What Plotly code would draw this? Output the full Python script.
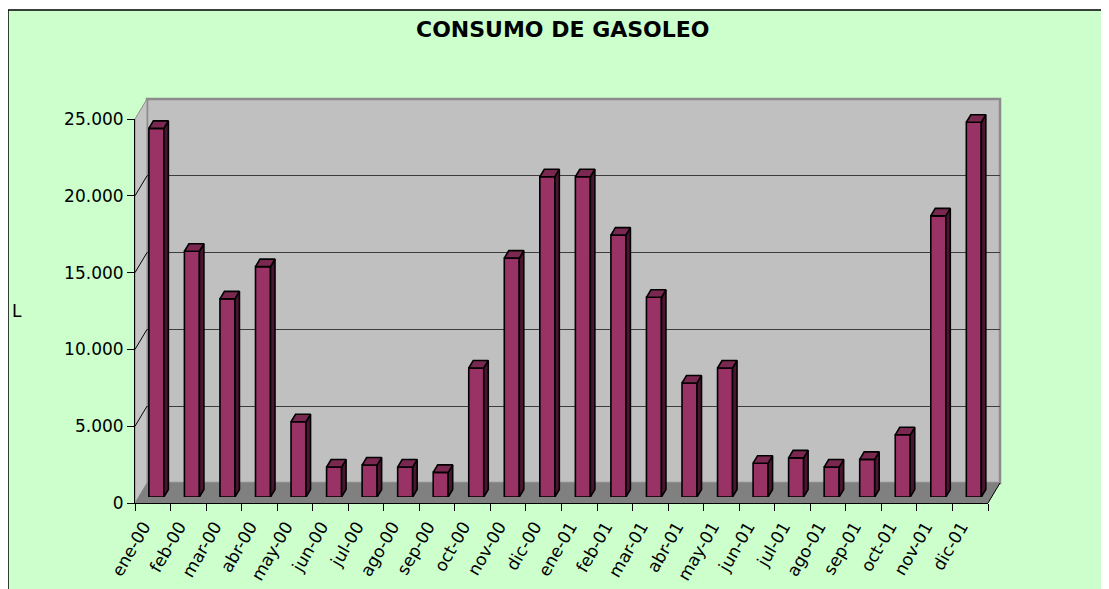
import plotly.graph_objects as go

months = ["ene-00", "feb-00", "mar-00", "abr-00", "may-00", "jun-00", "jul-00", "ago-00",
          "sep-00", "oct-00", "nov-00", "dic-00", "ene-01", "feb-01", "mar-01", "abr-01",
          "may-01", "jun-01", "jul-01", "ago-01", "sep-01", "oct-01", "nov-01", "dic-01"]
litros = [24000, 16000, 12900, 15000, 4900, 1950, 2080, 1950,
          1600, 8400, 15550, 20850, 20850, 17050, 13000, 7420,
          8400, 2200, 2550, 1950, 2450, 4050, 18300, 24400]
y_ticks = [0, 5000, 10000, 15000, 20000, 25000]
title_text = "CONSUMO DE GASOLEO"
y_title = "L"

# the page body adds an 8px margin; the figure fills the rest of the window
OFF = 8
W, H = 1109 - OFF, 589 - OFF
def px(x):
    return (x - OFF) / W
def py(y):
    return 1 - (y - OFF) / H

# geometry (window pixels)
FX0, FX1, FY0, FY1 = 135, 988, 503, 119      # front axes
BDX, BDY = 12, -20                            # back wall offset
BAR_DX, BAR_DY = 3.6, -6                      # bar plane offset
YMAX = 25000
n = len(months)
cat_px = (FX1 - FX0) / n
bar_w = 0.422
depth_x = 4.5 / cat_px
depth_y = 7.5 * YMAX / (FY0 - FY1)

fig = go.Figure()

fig.add_trace(go.Scatter(x=[0], y=[0], xaxis="x", yaxis="y", mode="markers",
                         marker=dict(opacity=0), hoverinfo="skip", showlegend=False))
fig.add_trace(go.Scatter(x=[0], y=[0], xaxis="x2", yaxis="y2", mode="markers",
                         marker=dict(opacity=0), hoverinfo="skip", showlegend=False))

xs = list(range(n))
sx, sy = [], []
tx, ty = [], []
for i, v in zip(xs, litros):
    xl, xr = i - bar_w / 2, i + bar_w / 2
    sx += [xr, xr + depth_x, xr + depth_x, xr, xr, None]
    sy += [0, depth_y, v + depth_y, v, 0, None]
    tx += [xl, xr, xr + depth_x, xl + depth_x, xl, None]
    ty += [v, v, v + depth_y, v + depth_y, v, None]

fig.add_trace(go.Bar(x=xs, y=litros, xaxis="x3", yaxis="y3", width=bar_w,
                     marker=dict(color="#993366", line=dict(color="black", width=1.6)),
                     showlegend=False, hoverinfo="skip"))
fig.add_trace(go.Scatter(x=sx, y=sy, xaxis="x3", yaxis="y3", mode="lines", fill="toself",
                         fillcolor="#4a1530", line=dict(color="black", width=1.6),
                         showlegend=False, hoverinfo="skip"))
fig.add_trace(go.Scatter(x=tx, y=ty, xaxis="x3", yaxis="y3", mode="lines", fill="toself",
                         fillcolor="#7a2850", line=dict(color="black", width=1.6),
                         showlegend=False, hoverinfo="skip"))

shapes = []
shapes.append(dict(type="rect", xref="paper", yref="paper", x0=px(8), x1=px(1109 + 5),
                   y0=py(589 + 5), y1=py(10), fillcolor="#ccffcc",
                   line=dict(color="black", width=1.5), layer="below"))
shapes.append(dict(type="rect", xref="paper", yref="paper",
                   x0=px(FX0 + BDX), x1=px(FX1 + BDX), y0=py(FY0 + BDY), y1=py(FY1 + BDY),
                   fillcolor="#c0c0c0", line=dict(color="#8c8c8c", width=2.5), layer="below"))
shapes.append(dict(type="path", xref="paper", yref="paper",
                   path=f"M {px(FX0)} {py(FY0)} L {px(FX0)} {py(FY1)} L {px(FX0+BDX)} {py(FY1+BDY)} "
                        f"L {px(FX0+BDX)} {py(FY0+BDY)} Z",
                   fillcolor="#c4c4c4", line=dict(color="#8c8c8c", width=1), layer="below"))
shapes.append(dict(type="path", xref="paper", yref="paper",
                   path=f"M {px(FX0)} {py(FY0)} L {px(FX1)} {py(FY0)} L {px(FX1+BDX)} {py(FY0+BDY)} "
                        f"L {px(FX0+BDX)} {py(FY0+BDY)} Z",
                   fillcolor="#808080", line=dict(width=0), layer="below"))
shapes.append(dict(type="line", xref="paper", yref="paper",
                   x0=px(FX1), y0=py(FY0), x1=px(FX1 + BDX), y1=py(FY0 + BDY),
                   line=dict(color="black", width=1)))
for t in y_ticks[1:-1]:
    yy = FY0 - (FY0 - FY1) * t / YMAX
    shapes.append(dict(type="line", xref="paper", yref="paper",
                       x0=px(FX0), y0=py(yy), x1=px(FX0 + BDX), y1=py(yy + BDY),
                       line=dict(color="black", width=1)))

font = "DejaVu Sans"
fig.update_layout(
    width=W, height=H,
    margin=dict(l=0, r=0, t=0, b=0, pad=0, autoexpand=False),
    paper_bgcolor="white",
    plot_bgcolor="rgba(0,0,0,0)",
    separators=",.",
    showlegend=False,
    shapes=shapes,
    font=dict(family=font, size=17, color="black"),
    xaxis=dict(domain=[px(FX0), px(FX1)], range=[-0.5, n - 0.5], anchor="y", automargin=False,
               showline=True, linecolor="black", linewidth=1, showgrid=False, zeroline=False,
               tickmode="array", tickvals=xs, ticktext=months, ticks="", tickangle=-60,
               ticklabelshift=-9, ticklabelstandoff=6,
               minor=dict(tickmode="array", tickvals=[i - 0.5 for i in range(n + 1)],
                          ticks="outside", ticklen=7, tickcolor="black", tickwidth=1,
                          showgrid=False),
               tickfont=dict(family=font, size=17)),
    yaxis=dict(domain=[py(FY0), py(FY1)], range=[0, YMAX], anchor="x", automargin=False,
               showline=True, linecolor="black", linewidth=1, showgrid=False, zeroline=False,
               tickmode="array", tickvals=y_ticks, tickformat=",.0f",
               ticks="outside", ticklen=7, tickcolor="black",
               tickfont=dict(family=font, size=17)),
    xaxis2=dict(domain=[px(FX0 + BDX), px(FX1 + BDX)], range=[-0.5, n - 0.5], anchor="y2",
                visible=False, automargin=False),
    yaxis2=dict(domain=[py(FY0 + BDY), py(FY1 + BDY)], range=[0, YMAX], anchor="x2",
                automargin=False,
                showgrid=True, gridcolor="#3c3c3c", gridwidth=1, zeroline=False,
                showline=False, showticklabels=False, ticks="",
                tickmode="array", tickvals=y_ticks[1:-1]),
    xaxis3=dict(domain=[px(FX0 + BAR_DX), px(FX1 + BAR_DX)], range=[-0.5, n - 0.5],
                anchor="y3", visible=False, automargin=False),
    yaxis3=dict(domain=[py(FY0 + BAR_DY), py(FY1 + BAR_DY)], range=[0, YMAX],
                anchor="x3", visible=False, automargin=False),
    annotations=[
        dict(text=f"<b>{title_text}</b>", xref="paper", yref="paper", x=px(563), y=py(30),
             xanchor="center", yanchor="middle", showarrow=False,
             font=dict(family=font, size=22, color="black")),
        dict(text=y_title, xref="paper", yref="paper", x=px(17), y=py(311),
             xanchor="center", yanchor="middle", showarrow=False,
             font=dict(family=font, size=17, color="black")),
    ],
)

fig.write_html("out.html")
